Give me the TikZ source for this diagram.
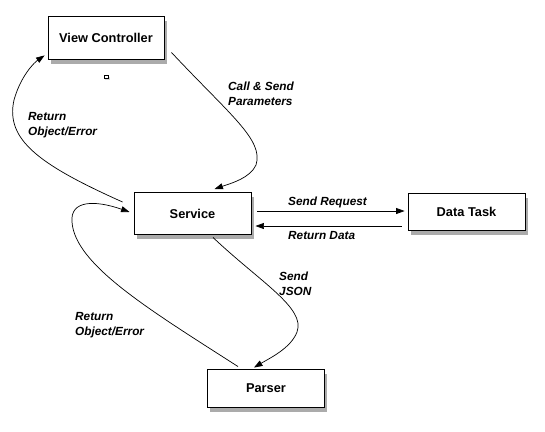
\documentclass[tikz,border=0pt]{standalone}
\usepackage{fontspec}
\setmainfont{Liberation Sans}
\usetikzlibrary{arrows.meta,shadows,calc}
\tikzset{
  box/.style={draw, line width=0.9pt, fill=white, minimum width=117pt, font=\bfseries\fontsize{12.8}{14}\selectfont,
    drop shadow={shadow xshift=2.5pt, shadow yshift=-4.5pt, fill=black!55, opacity=0.6}},
  arr/.style={line width=0.7pt, -{Triangle[length=8.5pt,width=6pt]}},
  lbl/.style={font=\bfseries\itshape\fontsize{11.8}{15}\selectfont, align=left, anchor=west, inner sep=0pt}
}
\begin{document}
\begin{tikzpicture}[x=1pt,y=-1pt]
\useasboundingbox (0,0) rectangle (545,431);
\node[box, minimum width=116pt, minimum height=43pt] (vc) at (106,37.5) {View Controller};
\node[box, minimum height=42pt] (svc) at (192.5,213.5) {Service};
\node[box, minimum height=37pt] (dt) at (466.5,211.5) {Data Task};
\node[box, minimum height=38pt] (ps) at (266,388) {Parser};
\draw[line width=0.6pt, fill=white, drop shadow={shadow xshift=1pt, shadow yshift=-2pt, fill=black!30, opacity=0.5}] (104,75) rectangle (108.5,78);
% View Controller -> Service
\draw[arr] ($(vc.south east)+(7,-7)$) .. controls (230,115) and (264,140) .. (256,165)
  .. controls (250,178) and (232,183) .. ($(svc.north)+(22,-3)$);
\node[lbl] (l1) at (228,94) {Call \& Send\\Parameters};
% Service -> View Controller
\draw[arr] ($(svc.west)+(-11,-11.5)$) .. controls (40,165) and (5,140) .. (14,100)
  .. controls (21,75) and (35,62) .. ($(vc.south west)+(-3,-4)$);
\node[lbl] (l2) at (28,125) {Return\\Object/Error};
% Service <-> Data Task
\draw[arr] ($(svc.east)+(6,-2.5)$) -- ($(dt.west)+(-3,-0.5)$);
\draw[arr] ($(dt.west)+(-6,14.5)$) -- ($(svc.east)+(4,12.5)$);
\node[lbl] (l3) at (288,202) {Send Request};
\node[lbl] (l4) at (288,235) {Return Data};
% Service -> Parser
\draw[arr] ($(svc.south)+(20.5,2.5)$) .. controls (260,282) and (306,308) .. (297,332)
  .. controls (291,348) and (270,358) .. ($(ps.north)+(-12,-1)$);
\node[lbl] (l5) at (279,284) {Send\\JSON};
% Parser -> Service
\draw[arr] ($(ps.north)+(-28,-2)$) .. controls (150,310) and (75,265) .. (72,222)
  .. controls (70,200) and (95,200) .. ($(svc.west)+(-4,-1.5)$);
\node[lbl] (l6) at (75,325) {Return\\Object/Error};
\end{tikzpicture}
\end{document}
